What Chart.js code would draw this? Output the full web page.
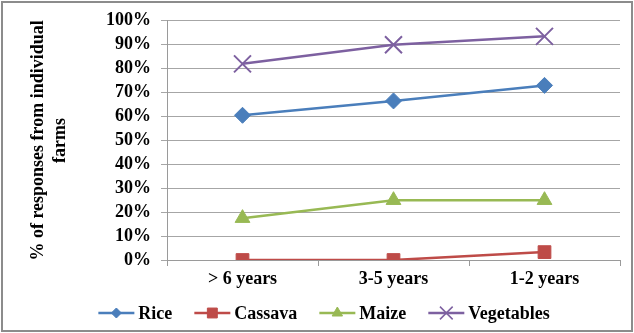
<!DOCTYPE html>
<html>
<head>
<meta charset="utf-8">
<script src="https://cdn.jsdelivr.net/npm/chart.js@4/dist/chart.umd.min.js"></script>
<style>
  html, body { margin: 0; padding: 0; background: #fff; }
  #wrap { width: 634px; height: 333px; position: relative; }
</style>
</head>
<body>
<div id="wrap"><canvas id="lineChart"></canvas></div>
<script>
// categories and values (share of responses, in %)
const categories = ['> 6 years', '3-5 years', '1-2 years'];
const rice = [60.5, 66.5, 73];
const cassava = [0, 0, 3.3];
const maize = [17.5, 25, 25];
const vegetables = [82, 90, 93.5];
const yStep = 10;

const serif = "'Liberation Serif', 'Times New Roman', serif";

// outer frame + white background
const framePlugin = {
  id: 'frame',
  beforeDraw(chart) {
    const ctx = chart.ctx;
    ctx.save();
    ctx.fillStyle = '#ffffff';
    ctx.fillRect(0, 0, chart.width, chart.height);
    ctx.strokeStyle = '#8c8c8c';
    ctx.lineWidth = 2;
    ctx.strokeRect(2, 2, chart.width - 4, chart.height - 4);
    ctx.restore();
  }
};

// legend with a line + marker per series
const lineLegend = {
  id: 'lineLegend',
  afterDraw(chart) {
    const ctx = chart.ctx;
    const sets = chart.data.datasets;
    const lineLen = 36, gap = 4, spacing = 22;
    ctx.save();
    ctx.font = 'bold 18px ' + serif;
    ctx.textBaseline = 'middle';
    const widths = sets.map(d => lineLen + gap + ctx.measureText(d.label).width);
    const total = widths.reduce((a, b) => a + b, 0) + spacing * (sets.length - 1);
    let x = chart.width / 2 + 7 - total / 2;
    const y = 313;
    sets.forEach((d, i) => {
      ctx.strokeStyle = d.borderColor;
      ctx.lineWidth = 2.5;
      ctx.beginPath();
      ctx.moveTo(x, y);
      ctx.lineTo(x + lineLen, y);
      ctx.stroke();
      ctx.fillStyle = d.backgroundColor;
      ctx.strokeStyle = d.borderColor;
      ctx.lineWidth = d.pointStyle === 'crossRot' ? 1.5 : 1;
      Chart.helpers.drawPoint(ctx, {
        pointStyle: d.pointStyle,
        rotation: 0,
        borderWidth: ctx.lineWidth,
        radius: d.legendRadius
      }, x + lineLen / 2, y);
      ctx.fillStyle = '#000';
      ctx.fillText(d.label, x + lineLen + gap, y + 1);
      x += widths[i] + spacing;
    });
    ctx.restore();
  }
};

const makeSet = (label, data, color, style, radius, legendRadius) => ({
  label: label,
  data: data,
  borderColor: color,
  backgroundColor: color,
  pointStyle: style,
  pointRadius: radius,
  pointHoverRadius: radius,
  pointBorderWidth: style === 'crossRot' ? 2 : 1,
  borderWidth: 2.5,
  legendRadius: legendRadius,
  tension: 0
});

document.addEventListener('DOMContentLoaded', function () {
  const data = {
    labels: categories,
    datasets: [
      makeSet('Rice', rice, '#4a7ebb', 'rectRot', 8, 5),
      makeSet('Cassava', cassava, '#be4b48', 'rect', 9, 7),
      makeSet('Maize', maize, '#98b954', 'triangle', 8.5, 6),
      makeSet('Vegetables', vegetables, '#7d60a0', 'crossRot', 12, 9)
    ]
  };

  const config = {
    type: 'line',
    data: data,
    options: {
      responsive: true,
      maintainAspectRatio: false,
      animation: false,
      layout: { padding: { left: 0, right: 13, top: 20, bottom: 33 } },
      plugins: {
        legend: { display: false },
        tooltip: { enabled: false }
      },
      scales: {
        x: {
          offset: true,
          grid: {
            offset: true,
            drawOnChartArea: false,
            drawTicks: true,
            tickLength: 6,
            color: '#9a9a9a'
          },
          border: { color: '#9a9a9a', width: 1 },
          ticks: {
            color: '#000',
            padding: 3,
            font: { family: serif, size: 18, weight: 'bold' }
          },
          afterFit(scale) { scale.height = 40; }
        },
        y: {
          min: 0,
          max: 100,
          grid: {
            color: '#a6a6a6',
            tickLength: 6
          },
          border: { color: '#9a9a9a', width: 1 },
          ticks: {
            stepSize: yStep,
            autoSkip: false,
            color: '#000',
            padding: 10,
            font: { family: serif, size: 18, weight: 'bold' },
            callback: v => v + '%'
          },
          title: {
            display: true,
            text: ['% of responses from individual', 'farms'],
            color: '#000',
            padding: { top: 27, bottom: 0 },
            font: { family: serif, size: 18, weight: 'bold', lineHeight: 1.25 }
          },
          afterFit(scale) { scale.width = 167; }
        }
      }
    },
    plugins: [framePlugin, lineLegend]
  };

  const ctx = document.getElementById('lineChart').getContext('2d');
  new Chart(ctx, config);
});
</script>
</body>
</html>
